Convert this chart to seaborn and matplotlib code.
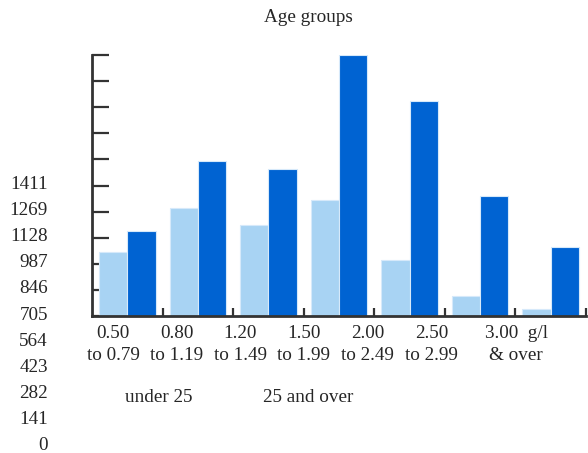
import numpy as np
import pandas as pd
import matplotlib
matplotlib.use("Agg")
import matplotlib.pyplot as plt
import seaborn as sns

# data
ranges = ["0.50\nto 0.79", "0.80\nto 1.19", "1.20\nto 1.49", "1.50\nto 1.99",
          "2.00\nto 2.49", "2.50\nto 2.99", "3.00  g/l\n& over"]
groups = ["under 25", "25 and over"]
under_25 = [1050, 1291, 1196, 1333, 1008, 815, 742]
over_25 = [1163, 1543, 1502, 2116, 1869, 1354, 1080]
ytick_labels = ["0", "141", "282", "423", "564", "705", "846", "987", "1128", "1269", "1411"]
ytick_step = 141.1
# where the range labels sit (in category units, as drawn in the original)
label_pos = [-0.2, 0.7, 1.6, 2.5, 3.41, 4.31, 5.51]

colors = ["#a8d3f3", "#0063d2"]

df = pd.DataFrame({
    "range": ranges * 2,
    "group": [groups[0]] * len(ranges) + [groups[1]] * len(ranges),
    "value": under_25 + over_25,
})

sns.set_style("white")
plt.rcParams["font.family"] = ["Liberation Serif", "DejaVu Serif"]
plt.rcParams["font.size"] = 13.8

fig = plt.figure(figsize=(5.88, 4.53), dpi=100)
ax = fig.add_axes([92 / 588, 1 - 316 / 453, 494 / 588, 261 / 453])

sns.barplot(data=df, x="range", y="value", hue="group", hue_order=groups,
            palette=colors, saturation=1, width=0.8, edgecolor="#d6e9fa",
            linewidth=0.8, legend=False, ax=ax)

lo = 5 * ytick_step
hi = 15 * ytick_step
ax.set_ylim(lo, hi)
ax.set_xlim(-0.5, len(ranges) - 0.5)

ax.set_yticks(np.arange(5, 16) * ytick_step)
ax.set_yticklabels([])
ax.set_xticks(np.arange(len(ranges)) + 0.5)
ax.set_xticklabels([])
ax.tick_params(axis="y", direction="in", length=12, width=1.6, color="#333333", left=True)
ax.tick_params(axis="x", direction="in", length=6, width=1.6, color="#333333", bottom=True)
ax.set_xlabel("")
ax.set_ylabel("")

for side in ["top", "right"]:
    ax.spines[side].set_visible(False)
for side in ["left", "bottom"]:
    ax.spines[side].set_color("#333333")
    ax.spines[side].set_linewidth(2)

# value labels continue past the bottom of the axis, like the original
for i, lab in enumerate(ytick_labels):
    ax.annotate(lab, xy=(0, i * ytick_step), xycoords=("axes fraction", "data"),
                xytext=(-44, 3), textcoords="offset pixels",
                ha="right", va="center_baseline", annotation_clip=False)

for x, lab in zip(label_pos, ranges):
    ax.annotate(lab, xy=(x, 0), xycoords=("data", "axes fraction"),
                xytext=(0, -9), textcoords="offset pixels",
                ha="center", va="top", multialignment="center",
                linespacing=1.4, annotation_clip=False)

fig.text(308 / 588, 1 - 18 / 453, "Age groups", ha="center", va="center")
fig.text(159 / 588, 1 - 397 / 453, groups[0], ha="center", va="center")
fig.text(308 / 588, 1 - 397 / 453, groups[1], ha="center", va="center")

fig.savefig("out.png", dpi=100)
